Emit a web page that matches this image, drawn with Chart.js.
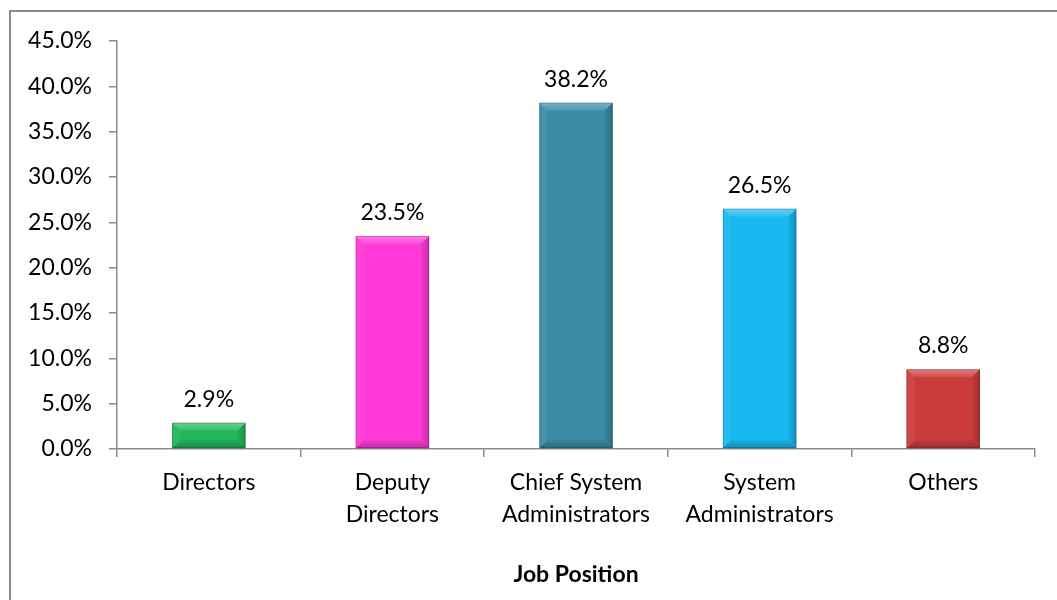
<!DOCTYPE html>
<html>
<head>
<meta charset="utf-8">
<script src="https://cdn.jsdelivr.net/npm/chart.js@4.4.0/dist/chart.umd.min.js"></script>
<style>
  html, body { margin: 0; padding: 0; background: #fff; }
  #wrap { width: 1057px; height: 600px; position: relative; }
</style>
</head>
<body>
<div id="wrap"><canvas id="positions-chart"></canvas></div>
<script>
const positions = [
    "Directors",
    ["Deputy", "Directors"],
    ["Chief System", "Administrators"],
    ["System", "Administrators"],
    "Others"
];
const shares = [2.9, 23.5, 38.2, 26.5, 8.8];
const barColors = ["#22b75a", "#ff3ad6", "#3a8ba4", "#18b8f0", "#cc3c3c"];

const FONT = "Lato, 'Open Sans', sans-serif";
const FONT_SIZE = 23;
const AXIS_GREY = "#8c8c8c";

// outer frame of the chart block
const frame = {
    id: "frame",
    beforeDraw(chart) {
        const c = chart.ctx;
        c.save();
        c.strokeStyle = "#8a8a8a";
        c.lineWidth = 2;
        c.strokeRect(10, 11, chart.width + 20, chart.height + 20);
        c.restore();
    }
};

// bevelled look on each bar + value label on top
const bevel = {
    id: "bevel",
    afterDatasetsDraw(chart) {
        const c = chart.ctx;
        const meta = chart.getDatasetMeta(0);
        meta.data.forEach((bar, i) => {
            const l = bar.x - bar.width / 2;
            const r = bar.x + bar.width / 2;
            const t = bar.y;
            const b = bar.base;
            const s = Math.min(8, (b - t) / 2, bar.width / 4);
            c.save();
            const poly = (pts, fill) => {
                c.beginPath();
                c.moveTo(pts[0][0], pts[0][1]);
                pts.slice(1).forEach(p => c.lineTo(p[0], p[1]));
                c.closePath();
                c.fillStyle = fill;
                c.fill();
            };
            const topFill = c.createLinearGradient(0, t, 0, t + s);
            topFill.addColorStop(0, "rgba(255,255,255,0.35)");
            topFill.addColorStop(1, "rgba(255,255,255,0.08)");
            poly([[l, t], [r, t], [r - s, t + s], [l + s, t + s]], topFill);
            poly([[l, t], [l + s, t + s], [l + s, b - s], [l, b]], "rgba(255,255,255,0.06)");
            const rightFill = c.createLinearGradient(r - s, 0, r, 0);
            rightFill.addColorStop(0, "rgba(0,0,0,0.04)");
            rightFill.addColorStop(1, "rgba(0,0,0,0.22)");
            poly([[r, t], [r - s, t + s], [r - s, b - s], [r, b]], rightFill);
            const botFill = c.createLinearGradient(0, b - s, 0, b);
            botFill.addColorStop(0, "rgba(0,0,0,0.05)");
            botFill.addColorStop(1, "rgba(0,0,0,0.25)");
            poly([[l, b], [l + s, b - s], [r - s, b - s], [r, b]], botFill);
            c.strokeStyle = "rgba(0,0,0,0.2)";
            c.lineWidth = 1;
            c.strokeRect(l + 0.5, t + 0.5, r - l - 1, b - t - 1);
            c.restore();

            c.save();
            c.fillStyle = "#000";
            c.font = FONT_SIZE + "px " + FONT;
            c.textAlign = "center";
            c.textBaseline = "alphabetic";
            c.fillText(shares[i].toFixed(1) + "%", bar.x, t - 16);
            c.restore();
        });
    }
};

new Chart(document.getElementById("positions-chart"), {
    type: "bar",
    data: {
        labels: positions,
        datasets: [{
            data: shares,
            backgroundColor: barColors,
            borderWidth: 0,
            categoryPercentage: 1,
            barPercentage: 0.4
        }]
    },
    options: {
        responsive: true,
        maintainAspectRatio: false,
        animation: false,
        layout: { padding: { top: 41, right: 22, bottom: 0, left: 0 } },
        plugins: {
            legend: { display: false },
            tooltip: { enabled: false }
        },
        scales: {
            x: {
                afterFit(scale) { scale.height = 151; },
                grid: {
                    display: true,
                    drawOnChartArea: false,
                    drawTicks: true,
                    tickLength: 8,
                    color: AXIS_GREY,
                    lineWidth: 1.5,
                    offset: true
                },
                border: { color: AXIS_GREY, width: 1.5 },
                ticks: {
                    color: "#000",
                    padding: 9,
                    maxRotation: 0,
                    autoSkip: false,
                    font: { family: FONT, size: FONT_SIZE, lineHeight: 1.4 }
                },
                title: {
                    display: true,
                    text: "Job Position",
                    color: "#000",
                    font: { family: FONT, size: FONT_SIZE, weight: "bold" },
                    padding: { top: 4, bottom: 12 }
                }
            },
            y: {
                min: 0,
                max: 45,
                afterFit(scale) { scale.width = 117; },
                grid: {
                    display: true,
                    drawOnChartArea: false,
                    drawTicks: true,
                    tickLength: 8,
                    color: AXIS_GREY,
                    lineWidth: 1.5
                },
                border: { color: AXIS_GREY, width: 1.5 },
                ticks: {
                    stepSize: 5,
                    color: "#000",
                    padding: 17,
                    font: { family: FONT, size: FONT_SIZE },
                    callback: v => v.toFixed(1) + "%"
                }
            }
        }
    },
    plugins: [frame, bevel]
});
</script>
</body>
</html>
